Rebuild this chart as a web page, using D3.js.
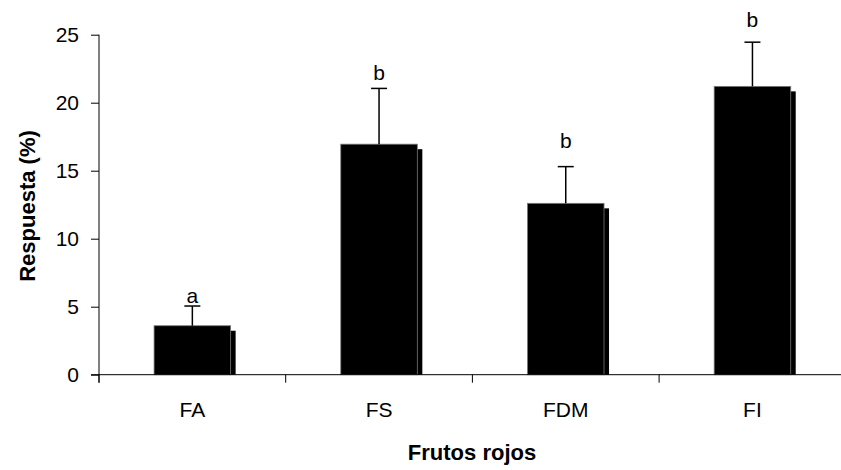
<!DOCTYPE html>
<html>
<head>
<meta charset="utf-8">
<script src="https://cdn.jsdelivr.net/npm/d3@7"></script>
<style>
  body { margin: 0; background: #fff; }
  svg { display: block; font-family: "Liberation Sans", Arial, sans-serif; }
</style>
</head>
<body>
<div id="chart"></div>
<script>
const categories = ["FA", "FS", "FDM", "FI"];
const values = [3.6, 16.95, 12.6, 21.2];
const errors = [1.45, 4.1, 2.7, 3.25];
const letters = ["a", "b", "b", "b"];
const letterPos = [5.3, 21.7, 16.65, 25.6];
const yTicks = [0, 5, 10, 15, 20, 25];

const W = 841, H = 470;
const x0 = 99, y0 = 374.7;
const step = 186.7;

const svg = d3.select("#chart")
    .append("svg")
    .attr("width", W)
    .attr("height", H);

const xScale = d3.scaleBand()
    .domain(categories)
    .range([x0, x0 + categories.length * step])
    .paddingInner(0.59)
    .paddingOuter(0.295);

const yScale = d3.scaleLinear()
    .domain([0, 25])
    .range([y0, 34.7]);

// shadow behind each bar
svg.selectAll(".shadow")
    .data(categories)
    .enter()
    .append("rect")
    .attr("class", "shadow")
    .attr("x", d => xScale(d) + 5)
    .attr("y", (d, i) => yScale(values[i]) + 5)
    .attr("width", xScale.bandwidth())
    .attr("height", (d, i) => y0 - yScale(values[i]) - 5)
    .attr("fill", "#000");

svg.selectAll(".bar")
    .data(categories)
    .enter()
    .append("rect")
    .attr("class", "bar")
    .attr("x", d => xScale(d))
    .attr("y", (d, i) => yScale(values[i]))
    .attr("width", xScale.bandwidth())
    .attr("height", (d, i) => y0 - yScale(values[i]))
    .attr("fill", "#000")
    .attr("stroke", "#777")
    .attr("stroke-width", 0.8);

// error bars (upper only)
const cx = d => xScale(d) + xScale.bandwidth() / 2;
svg.selectAll(".err")
    .data(categories)
    .enter()
    .append("line")
    .attr("x1", cx).attr("x2", cx)
    .attr("y1", (d, i) => yScale(values[i]))
    .attr("y2", (d, i) => yScale(values[i] + errors[i]))
    .attr("stroke", "#000")
    .attr("stroke-width", 1.5);

svg.selectAll(".cap")
    .data(categories)
    .enter()
    .append("line")
    .attr("x1", d => cx(d) - 8).attr("x2", d => cx(d) + 8)
    .attr("y1", (d, i) => yScale(values[i] + errors[i]))
    .attr("y2", (d, i) => yScale(values[i] + errors[i]))
    .attr("stroke", "#000")
    .attr("stroke-width", 1.5);

svg.selectAll(".letter")
    .data(categories)
    .enter()
    .append("text")
    .attr("x", cx)
    .attr("y", (d, i) => yScale(letterPos[i]))
    .attr("text-anchor", "middle")
    .style("font-size", "21px")
    .text((d, i) => letters[i]);

// axes
const yAxis = svg.append("g")
    .attr("transform", `translate(${x0},0)`)
    .call(d3.axisLeft(yScale).tickValues(yTicks).tickSize(8).tickPadding(12));
yAxis.select(".domain").attr("d", `M0,${y0 + 8}V${yScale(25)}`);

const xAxis = svg.append("g")
    .attr("transform", `translate(0,${y0})`)
    .call(d3.axisBottom(xScale).tickSize(0).tickPadding(27));
xAxis.select(".domain").attr("d", `M${x0 - 8},0H${W}`);

// category boundary ticks
svg.selectAll(".btick")
    .data(categories)
    .enter()
    .append("line")
    .attr("x1", (d, i) => x0 + i * xScale.step())
    .attr("x2", (d, i) => x0 + i * xScale.step())
    .attr("y1", y0)
    .attr("y2", y0 + 8)
    .attr("stroke", "#000");

[yAxis, xAxis].forEach(g => {
    g.selectAll("text").style("font-size", "21px").attr("fill", "#000")
        .style("font-family", '"Liberation Sans", Arial, sans-serif');
    g.selectAll("line, path").attr("stroke", "#000");
});

svg.append("text")
    .attr("x", 472)
    .attr("y", 460)
    .attr("text-anchor", "middle")
    .style("font-size", "22px")
    .style("font-weight", "bold")
    .text("Frutos rojos");

svg.append("text")
    .attr("transform", `translate(35,206) rotate(-90)`)
    .attr("text-anchor", "middle")
    .style("font-size", "22px")
    .style("font-weight", "bold")
    .text("Respuesta (%)");
</script>
</body>
</html>
